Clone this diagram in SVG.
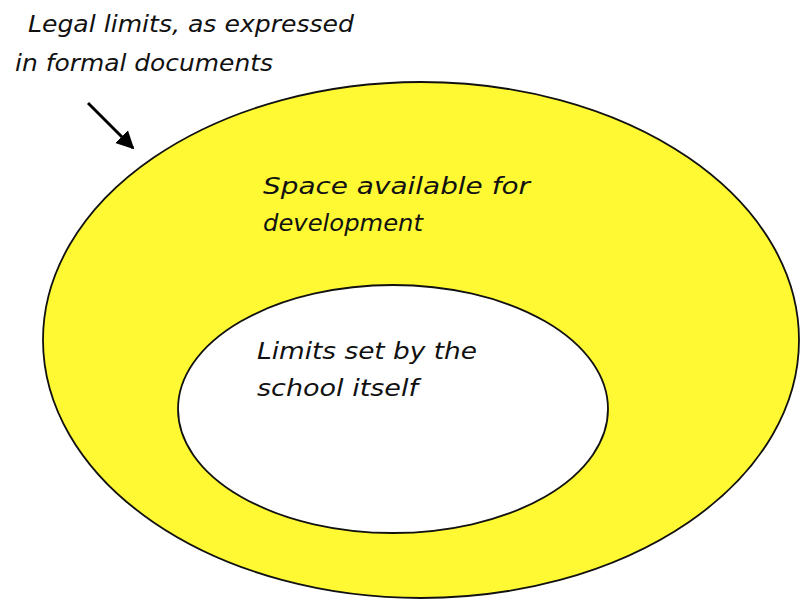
<svg xmlns="http://www.w3.org/2000/svg" width="800" height="600" viewBox="0 0 800 600">
<style>
  .lbl { font-family: "Comic Sans MS", "DejaVu Sans", "Liberation Sans", sans-serif; font-style: italic; font-size: 23px; fill: #111; }
  .shape { stroke: #111; stroke-width: 1.8; }
</style>
<defs>
  <marker id="arr" viewBox="0 0 10 10" refX="9" refY="5" markerWidth="6" markerHeight="6.5" orient="auto" markerUnits="strokeWidth">
    <path d="M0,0 L10,5 L0,10 z" fill="#000"/>
  </marker>
</defs>
<rect width="800" height="600" fill="#fff"/>
<g id="outer">
  <ellipse class="shape" cx="421" cy="340" rx="378" ry="258" fill="#FFF933"/>
  <text class="lbl" x="263" y="194" textLength="267" lengthAdjust="spacingAndGlyphs">Space available for</text>
  <text class="lbl" x="263" y="231" textLength="160" lengthAdjust="spacingAndGlyphs">development</text>
</g>
<g id="inner">
  <ellipse class="shape" cx="393" cy="409" rx="215" ry="124" fill="#fff"/>
  <text class="lbl" x="257" y="359" textLength="220" lengthAdjust="spacingAndGlyphs">Limits set by the</text>
  <text class="lbl" x="257" y="396" textLength="161" lengthAdjust="spacingAndGlyphs">school itself</text>
</g>
<g id="legal">
  <text class="lbl" x="28" y="32" textLength="326" lengthAdjust="spacingAndGlyphs">Legal limits, as expressed</text>
  <text class="lbl" x="15" y="71" textLength="258" lengthAdjust="spacingAndGlyphs">in formal documents</text>
</g>
<g id="connectors">
  <line x1="88" y1="103" x2="133" y2="148" stroke="#000" stroke-width="3" marker-end="url(#arr)"/>
</g>
</svg>
